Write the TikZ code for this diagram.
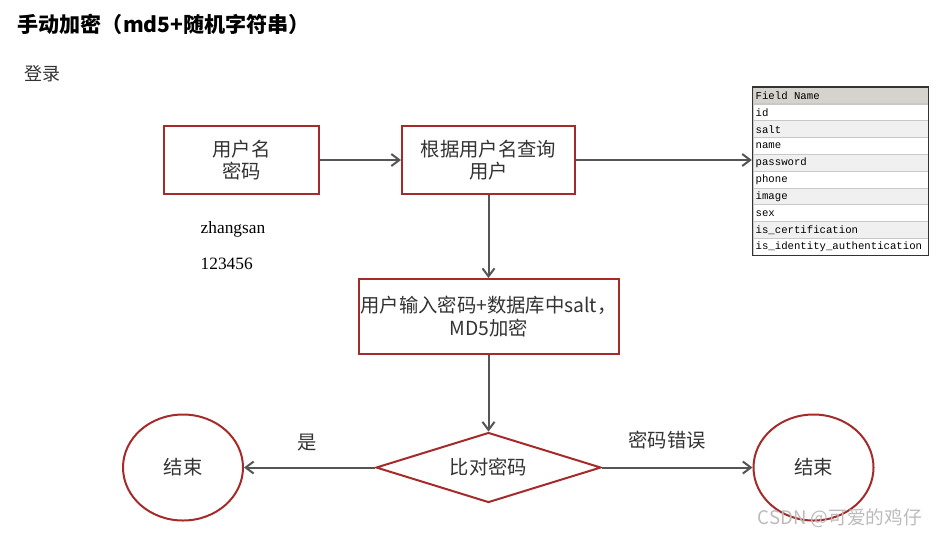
\documentclass[tikz,border=0pt]{standalone}
\usepackage{fontspec}
\setmainfont{Noto Sans CJK SC}
\newfontfamily\monofont{Liberation Mono}
\newfontfamily\serifen{Liberation Serif}
\usepackage{xcolor}
\usetikzlibrary{arrows.meta, positioning, fit, shapes.geometric}
\definecolor{myred}{HTML}{A52A2A}
\definecolor{myarrow}{HTML}{555555}
\definecolor{mytext}{HTML}{333333}
\definecolor{myhead}{HTML}{D6D3CE}
\definecolor{myrowgray}{HTML}{F0F0F0}
\definecolor{mygrid}{HTML}{C8C8C8}
\definecolor{mymark}{HTML}{BBBBBB}
\tikzset{
stepbox/.style={
draw=myred,
line width=1.5pt,
fill=white,
text=mytext,
font=\fontsize{14.5}{17}\selectfont,
align=center,
inner sep=1pt
},
decision/.style={
diamond,
draw=myred,
line width=1.5pt,
aspect=3.2,
inner sep=0pt,
text=mytext,
font=\fontsize{14.5}{17}\selectfont
},
endstate/.style={
ellipse,
draw=myred,
line width=1.5pt,
inner sep=0pt,
minimum width=90pt,
minimum height=79.5pt,
text=mytext,
font=\fontsize{14.5}{17}\selectfont
},
fieldrow/.style={
draw=mygrid,
line width=0.5pt,
minimum width=131.25pt,
minimum height=12.6pt,
text width=127.25pt,
inner xsep=2pt,
inner ysep=0pt,
align=left,
font=\monofont\fontsize{8}{9}\selectfont
},
flowlabel/.style={
text=mytext,
font=\fontsize{14.5}{17}\selectfont
},
flow/.style={
-{Straight Barb[length=6pt,width=9pt]},
line width=1.5pt,
draw=myarrow
}
}

\begin{document}
\begin{tikzpicture}[x=0.75pt,y=-0.75pt]
\useasboundingbox (0,0) rectangle (941,537);

\node[anchor=west, font=\bfseries\fontsize{15.8}{18}\selectfont] (title) at (13,24) {手动加密（md5+随机字符串）};
\node[anchor=west, text=mytext, font=\fontsize{13.5}{16}\selectfont] (login) at (20,74) {登录};

\node[stepbox, minimum width=116.25pt, minimum height=51pt] (box1) at (241.5,160) {用户名\\密码};
\node[stepbox, minimum width=129.75pt, minimum height=51pt] (box2) at (488.5,160) {根据用户名查询\\用户};
\node[stepbox, minimum width=195pt, minimum height=56.25pt] (box3) at (488.5,316.5) {用户输入密码+数据库中salt，\\MD5加密};
\node[decision, minimum width=168.75pt, minimum height=52.5pt] (cmp) at (488.5,467.5) {比对密码};
\node[endstate] (endok) at (183,467.5) {结束};
\node[endstate] (endbad) at (813.5,467.5) {结束};

\node[anchor=west, font=\serifen\fontsize{13}{15}\selectfont] (uname) at (196,229) {zhangsan};
\node[anchor=west, font=\serifen\fontsize{13}{15}\selectfont] (upass) at (196,264) {123456};

% table of fields
\node[fieldrow, fill=myhead, minimum height=12pt] (hdr) at (840.5,95.5) {Field\hspace{4.8pt}Name};
\foreach \f/\c [count=\i] in {id/white, salt/myrowgray, name/white, password/myrowgray, phone/white, image/myrowgray, sex/white, is\_certification/myrowgray, is\_identity\_authentication/white}
  \node[fieldrow, fill=\c] (r\i) at (840.5,{104+16.8*(\i-0.5)}) {\f};
\node[fit=(hdr)(r9), draw=black!80, line width=1.2pt, inner sep=0pt] (tbl) {};

\draw[flow] (box1) -- (box2);
\draw[flow] (box2.east) -- (box2.east -| tbl.west);
\draw[flow] (box2) -- (box3);
\draw[flow] (box3) -- (cmp);
\draw[flow] (cmp.west) -- (endok.east);
\draw[flow] (cmp.east) -- (endbad.west);

\node[flowlabel] (yes) at (307,443) {是};
\node[flowlabel] (wrong) at (667,440) {密码错误};

\node[anchor=west, text=mymark, font=\fontsize{14}{16}\selectfont] (mark) at (753,518) {CSDN @可爱的鸡仔};

\end{tikzpicture}
\end{document}
